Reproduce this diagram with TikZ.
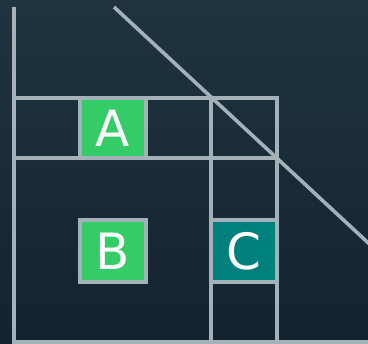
\documentclass[tikz,border=0pt]{standalone}
\usepackage{fontspec}
\setmainfont{DejaVu Sans}
\usetikzlibrary{positioning}
\definecolor{BgTop}{HTML}{1F3440}
\definecolor{BgBottom}{HTML}{13232F}
\definecolor{GridGray}{HTML}{A5B1B9}
\definecolor{CellGreen}{HTML}{33CC66}
\definecolor{CellTeal}{HTML}{00807D}
\tikzset{
  gline/.style={draw=GridGray,line width=3.6pt},
  cell/.style={draw=GridGray,line width=3.6pt,minimum width=66pt,minimum height=62pt,inner sep=0pt,text=white,font=\fontsize{50}{50}\selectfont},
  gcell/.style={cell,fill=CellGreen},
  tcell/.style={cell,fill=CellTeal},
}
\begin{document}
\begin{tikzpicture}[x=1pt,y=-1pt]
        \useasboundingbox (0,0) rectangle (368,344);
        \clip (0,0) rectangle (368,344);
        \shade[top color=BgTop,bottom color=BgBottom] (0,0) rectangle (368,344);
        % outer frame and diagonal
        \draw[gline] (14,7) -- (14,350);
        \draw[gline] (12.2,342) -- (372,342);
        \draw[gline] (114,7) -- (392,265);
        % top band and right column
        \draw[gline] (12.2,98) -- (278.8,98);
        \draw[gline] (12.2,158) -- (278.8,158);
        \draw[gline] (211,98) -- (211,350);
        \draw[gline] (277,96.2) -- (277,350);
        % cells
        \node[gcell,minimum height=60pt] (a) at (113,128) {A};
        \node[gcell] (b) at (113,251) {B};
        \node[tcell] (c) at (244,251) {C};
      \end{tikzpicture}
\end{document}
